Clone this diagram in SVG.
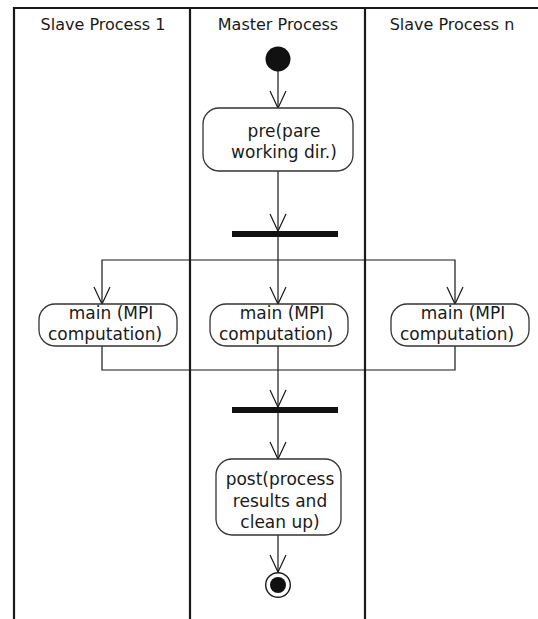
<svg xmlns="http://www.w3.org/2000/svg" width="538" height="619" viewBox="0 0 538 619">
<style>
  .lane { stroke: #1a1a1a; stroke-width: 2.2; fill: none; }
  .hdr { font-family: "DejaVu Sans", Verdana, sans-serif; font-size: 16px; fill: #1a1a1a; text-anchor: middle; }
  .box { fill: #ffffff; stroke: #333333; stroke-width: 1.3; }
  .lbl { font-family: "DejaVu Sans", Verdana, sans-serif; font-size: 17px; fill: #1a1a1a; text-anchor: middle; }
  .edge { stroke: #1a1a1a; stroke-width: 1.2; fill: none; }
  .bar { fill: #111111; }
</style>
<defs>
  <marker id="arr" markerUnits="userSpaceOnUse" markerWidth="40" markerHeight="40" viewBox="-20 -20 40 40" refX="0" refY="0" orient="auto" overflow="visible">
    <path d="M-17,-8 L0,0 L-17,8" fill="none" stroke="#1a1a1a" stroke-width="1.2"/>
  </marker>
</defs>
<rect width="538" height="619" fill="#ffffff"/>
<g id="swimlanes">
  <path class="lane" d="M14,619 V8 H538"/>
  <line class="lane" x1="190" y1="8" x2="190" y2="619" stroke-width="2.6"/>
  <line class="lane" x1="365" y1="8" x2="365" y2="619" stroke-width="2.6"/>
  <text class="hdr" x="103" y="30">Slave Process 1</text>
  <text class="hdr" x="278" y="30">Master Process</text>
  <text class="hdr" x="452" y="30">Slave Process n</text>
</g>
<g id="connectors">
  <path class="edge" d="M278,71 V108" marker-end="url(#arr)"/>
  <path class="edge" d="M278,171 V231" marker-end="url(#arr)"/>
  <path class="edge" d="M278,237 V304" marker-end="url(#arr)"/>
  <path class="edge" d="M278,260 H102 V304" marker-end="url(#arr)"/>
  <path class="edge" d="M278,260 H455 V304" marker-end="url(#arr)"/>
  <path class="edge" d="M102,346 V370 H455 V346"/>
  <path class="edge" d="M278,346 V407" marker-end="url(#arr)"/>
  <path class="edge" d="M278,413 V459" marker-end="url(#arr)"/>
  <path class="edge" d="M278,535 V572" marker-end="url(#arr)"/>
</g>
<g id="start">
  <circle cx="278" cy="59" r="12.5" fill="#111111"/>
</g>
<g id="pre">
  <rect class="box" x="203" y="108" width="150" height="63" rx="16" ry="16"/>
  <text class="lbl" x="284" y="137">pre(pare</text>
  <text class="lbl" x="284" y="158">working dir.)</text>
</g>
<g id="fork">
  <rect class="bar" x="232" y="231" width="106" height="6"/>
</g>
<g id="main1">
  <rect class="box" x="39" y="304" width="138" height="42" rx="16" ry="16"/>
  <text class="lbl" x="111" y="319">main (MPI</text>
  <text class="lbl" x="105" y="340">computation)</text>
</g>
<g id="main2">
  <rect class="box" x="210" y="304" width="138" height="42" rx="16" ry="16"/>
  <text class="lbl" x="282" y="319">main (MPI</text>
  <text class="lbl" x="276" y="340">computation)</text>
</g>
<g id="mainn">
  <rect class="box" x="391" y="304" width="138" height="42" rx="16" ry="16"/>
  <text class="lbl" x="463" y="319">main (MPI</text>
  <text class="lbl" x="457" y="340">computation)</text>
</g>
<g id="join">
  <rect class="bar" x="232" y="407" width="106" height="6"/>
</g>
<g id="post">
  <rect class="box" x="216" y="459" width="125" height="76" rx="16" ry="16"/>
  <text class="lbl" x="280" y="485">post(process</text>
  <text class="lbl" x="280" y="507">results and</text>
  <text class="lbl" x="280" y="528">clean up)</text>
</g>
<g id="end">
  <circle cx="278" cy="585" r="12.3" fill="#ffffff" stroke="#1a1a1a" stroke-width="1.4"/>
  <circle cx="278" cy="585" r="8" fill="#111111"/>
</g>
</svg>
